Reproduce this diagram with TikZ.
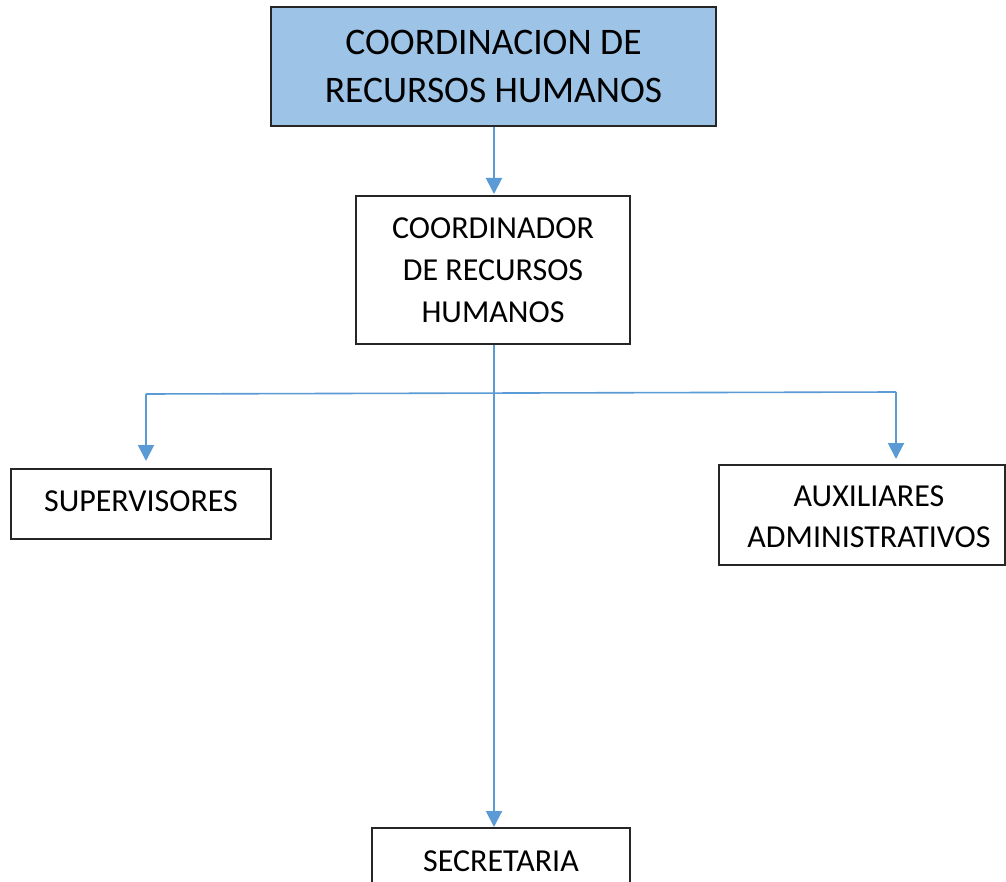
\documentclass[tikz,border=0pt]{standalone}
\usepackage{fontspec}
\setmainfont{Carlito}
\usetikzlibrary{arrows.meta}
\definecolor{lineblue}{HTML}{5B9BD5}
\definecolor{boxblue}{HTML}{9DC3E6}
\tikzset{
  orgbox/.style={draw=black!85, line width=1.2pt, inner sep=0pt, align=center,
    font=\fontsize{32}{42}\selectfont},
  conn/.style={draw=lineblue, line width=2pt, -{Triangle[width=16pt,length=16pt]}},
  plain/.style={draw=lineblue, line width=1.6pt}
}
\begin{document}
\begin{tikzpicture}[x=1pt,y=-1pt]
\useasboundingbox (0,0) rectangle (1006,882);
\fill[white] (0,0) rectangle (1006,882);
\node[orgbox, fill=boxblue, minimum width=445pt, minimum height=119pt,
  font=\fontsize{37.5}{48}\selectfont] (top) at (493.5,66.5) {COORDINACION DE\\RECURSOS HUMANOS};
\node[orgbox, minimum width=274pt, minimum height=148pt] (coord) at (493,270) {COORDINADOR\\DE RECURSOS\\HUMANOS};
\node[orgbox, minimum width=260pt, minimum height=70pt,
  label={[font=\fontsize{32}{42}\selectfont, yshift=3pt]center:SUPERVISORES}] (sup) at (141,504) {};
\node[orgbox, minimum width=286pt, minimum height=100pt,
  label={[align=center, font=\fontsize{32}{41}\selectfont, xshift=7pt, yshift=-2pt]center:AUXILIARES\\ADMINISTRATIVOS}] (aux) at (862,515) {};
\node[orgbox, minimum width=258pt, minimum height=66pt] (sec) at (501,861) {SECRETARIA};
\coordinate (hl) at (146,394);
\coordinate (hr) at (896,392);
\draw[conn] (top.south -| 494,0) -- (494,194);
\draw[conn] (coord.south -| 494,0) -- (494,827);
\draw[plain] (hl) -- (hr);
\draw[conn] (hl) -- (146,461);
\draw[conn] (hr) -- (896,459);
\end{tikzpicture}
\end{document}
